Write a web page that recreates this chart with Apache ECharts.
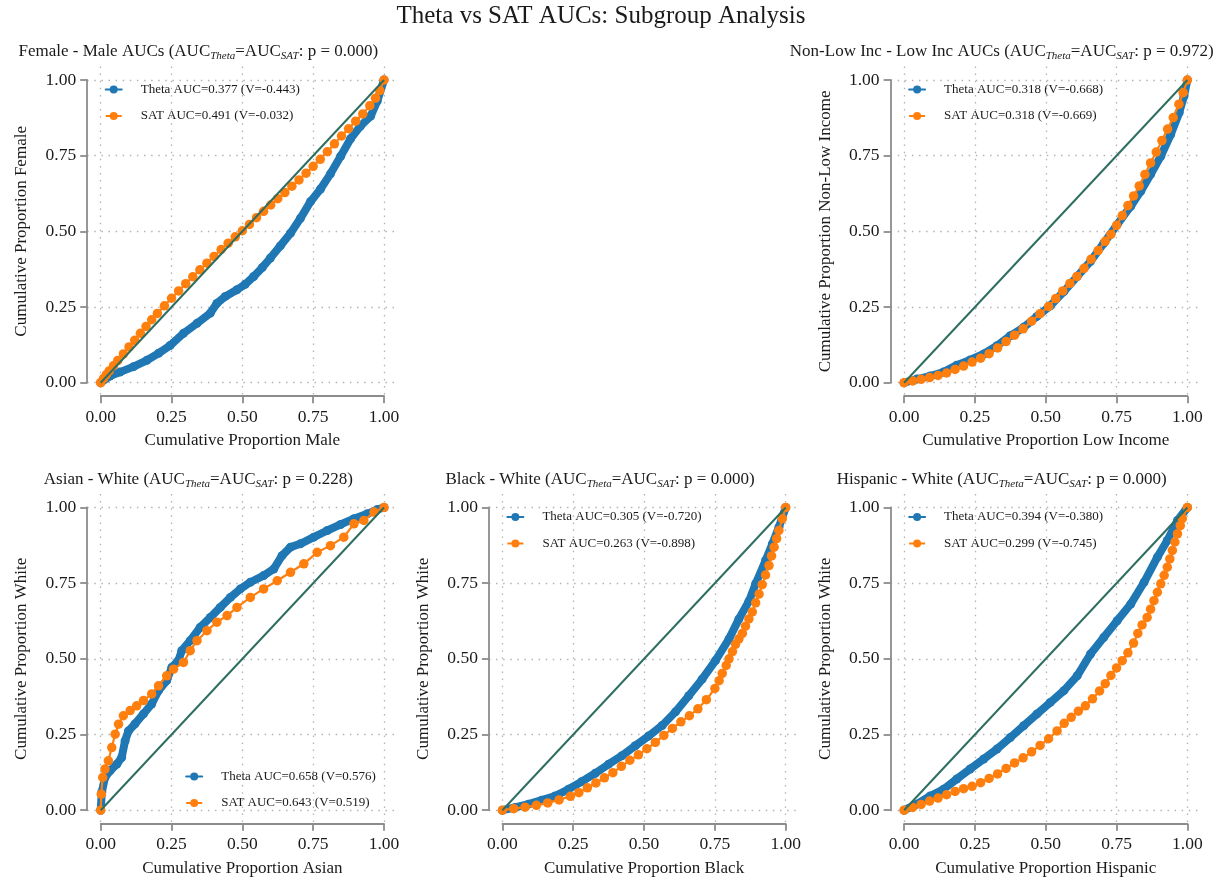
<!DOCTYPE html>
<html>
<head>
<meta charset="utf-8">
<script src="https://cdn.jsdelivr.net/npm/echarts@6/dist/echarts.min.js"></script>
<style>
  html, body { margin: 0; padding: 0; background: #ffffff; }
  #chart { width: 1227px; height: 886px; }
</style>
</head>
<body>
<div id="chart"></div>
<script>
// ---------- data ----------
const tickValues = [0, 0.25, 0.5, 0.75, 1];
const tickLabels = ['0.00', '0.25', '0.50', '0.75', '1.00'];

const mainTitle = 'Theta vs SAT AUCs: Subgroup Analysis';
const titleHeads = ['Female - Male AUCs', 'Non-Low Inc - Low Inc AUCs', 'Asian - White', 'Black - White', 'Hispanic - White'];
const pValues = ['0.000', '0.972', '0.228', '0.000', '0.000'];
const xNames = ['Cumulative Proportion Male', 'Cumulative Proportion Low Income', 'Cumulative Proportion Asian', 'Cumulative Proportion Black', 'Cumulative Proportion Hispanic'];
const yNames = ['Cumulative Proportion Female', 'Cumulative Proportion Non-Low Income', 'Cumulative Proportion White', 'Cumulative Proportion White', 'Cumulative Proportion White'];
const thetaNames = ['Theta AUC=0.377 (V=-0.443)', 'Theta AUC=0.318 (V=-0.668)', 'Theta AUC=0.658 (V=0.576)', 'Theta AUC=0.305 (V=-0.720)', 'Theta AUC=0.394 (V=-0.380)'];
const satNames = ['SAT AUC=0.491 (V=-0.032)', 'SAT AUC=0.318 (V=-0.669)', 'SAT AUC=0.643 (V=0.519)', 'SAT AUC=0.263 (V=-0.898)', 'SAT AUC=0.299 (V=-0.745)'];

const chanceLine = [[0, 0], [1, 1]];

const femaleMaleTheta = [[0,0],[0.033,0.022],[0.068,0.035],[0.116,0.053],[0.163,0.074],[0.204,0.097],[0.245,0.123],[0.292,0.163],[0.340,0.196],[0.387,0.230],[0.410,0.262],[0.440,0.285],[0.481,0.307],[0.510,0.325],[0.540,0.351],[0.570,0.380],[0.599,0.412],[0.634,0.452],[0.670,0.494],[0.705,0.543],[0.741,0.599],[0.776,0.640],[0.811,0.690],[0.847,0.748],[0.882,0.806],[0.917,0.848],[0.953,0.881],[0.976,0.930],[1,1]];
const femaleMaleSat = [[0,0],[0.01,0.014],[0.02,0.027],[0.03,0.039],[0.045,0.056],[0.06,0.073],[0.08,0.095],[0.1,0.118],[0.12,0.14],[0.14,0.163],[0.16,0.186],[0.18,0.208],[0.2,0.229],[0.225,0.254],[0.25,0.279],[0.275,0.303],[0.3,0.327],[0.325,0.35],[0.35,0.373],[0.375,0.395],[0.4,0.417],[0.425,0.44],[0.45,0.461],[0.475,0.482],[0.5,0.502],[0.525,0.523],[0.55,0.545],[0.575,0.566],[0.6,0.587],[0.625,0.608],[0.65,0.628],[0.675,0.649],[0.7,0.67],[0.725,0.692],[0.75,0.715],[0.775,0.738],[0.8,0.763],[0.825,0.789],[0.85,0.815],[0.875,0.839],[0.9,0.864],[0.925,0.888],[0.95,0.915],[0.97,0.94],[0.985,0.965],[1,1]];

const incomeTheta = [[0,0],[0.045,0.012],[0.092,0.022],[0.139,0.035],[0.186,0.058],[0.233,0.075],[0.281,0.095],[0.328,0.122],[0.375,0.155],[0.422,0.183],[0.469,0.219],[0.516,0.254],[0.564,0.301],[0.611,0.351],[0.658,0.401],[0.705,0.461],[0.752,0.522],[0.800,0.583],[0.835,0.632],[0.870,0.688],[0.906,0.748],[0.941,0.820],[0.971,0.892],[0.988,0.947],[1,1]];
const incomeSat = [[0,0],[0.03,0.006],[0.06,0.011],[0.09,0.017],[0.12,0.024],[0.15,0.032],[0.18,0.044],[0.21,0.055],[0.24,0.068],[0.27,0.081],[0.3,0.096],[0.33,0.115],[0.36,0.136],[0.39,0.157],[0.42,0.178],[0.45,0.203],[0.48,0.228],[0.51,0.252],[0.535,0.278],[0.56,0.303],[0.585,0.328],[0.61,0.351],[0.635,0.378],[0.66,0.408],[0.685,0.437],[0.71,0.467],[0.73,0.49],[0.75,0.52],[0.77,0.552],[0.79,0.585],[0.81,0.617],[0.83,0.65],[0.85,0.688],[0.87,0.726],[0.89,0.762],[0.91,0.8],[0.93,0.838],[0.95,0.876],[0.97,0.92],[0.985,0.958],[1,1]];

const asianTheta = [[0,0],[0.004,0.06],[0.015,0.108],[0.033,0.130],[0.057,0.152],[0.074,0.174],[0.086,0.229],[0.098,0.262],[0.121,0.285],[0.151,0.318],[0.180,0.351],[0.204,0.395],[0.233,0.428],[0.251,0.472],[0.274,0.494],[0.286,0.527],[0.316,0.560],[0.351,0.604],[0.387,0.637],[0.422,0.670],[0.458,0.703],[0.493,0.731],[0.528,0.753],[0.575,0.775],[0.611,0.797],[0.640,0.841],[0.670,0.869],[0.705,0.880],[0.752,0.902],[0.800,0.924],[0.847,0.944],[0.894,0.963],[0.941,0.979],[0.976,0.993],[1,1]];
const asianSat = [[0,0],[0.002,0.053],[0.007,0.108],[0.015,0.136],[0.027,0.163],[0.039,0.207],[0.051,0.251],[0.063,0.284],[0.080,0.312],[0.104,0.329],[0.127,0.345],[0.151,0.362],[0.180,0.384],[0.204,0.411],[0.233,0.444],[0.257,0.466],[0.292,0.488],[0.316,0.527],[0.340,0.560],[0.375,0.593],[0.410,0.621],[0.446,0.643],[0.481,0.670],[0.528,0.703],[0.575,0.731],[0.623,0.758],[0.670,0.786],[0.717,0.814],[0.764,0.852],[0.811,0.874],[0.858,0.902],[0.894,0.946],[0.929,0.957],[0.965,0.985],[1,1]];

const blackTheta = [[0,0],[0.045,0.009],[0.092,0.020],[0.139,0.033],[0.186,0.047],[0.233,0.069],[0.281,0.095],[0.328,0.122],[0.375,0.152],[0.422,0.180],[0.469,0.213],[0.516,0.245],[0.564,0.280],[0.611,0.325],[0.658,0.378],[0.705,0.433],[0.752,0.494],[0.800,0.566],[0.835,0.632],[0.870,0.690],[0.894,0.748],[0.929,0.825],[0.953,0.880],[0.976,0.935],[1,1]];
const blackSat = [[0,0],[0.04,0.005],[0.08,0.01],[0.12,0.016],[0.16,0.024],[0.2,0.034],[0.24,0.046],[0.27,0.058],[0.3,0.074],[0.33,0.09],[0.36,0.107],[0.39,0.124],[0.42,0.145],[0.45,0.165],[0.48,0.183],[0.51,0.203],[0.54,0.224],[0.57,0.247],[0.6,0.27],[0.63,0.292],[0.66,0.312],[0.69,0.335],[0.72,0.365],[0.75,0.402],[0.765,0.428],[0.776,0.452],[0.79,0.478],[0.8,0.5],[0.812,0.524],[0.823,0.548],[0.835,0.566],[0.847,0.584],[0.858,0.608],[0.87,0.632],[0.882,0.655],[0.894,0.685],[0.906,0.714],[0.917,0.745],[0.929,0.777],[0.941,0.808],[0.95,0.84],[0.959,0.869],[0.968,0.897],[0.976,0.924],[0.988,0.963],[1,1]];

const hispanicTheta = [[0,0],[0.045,0.020],[0.092,0.047],[0.139,0.069],[0.186,0.103],[0.233,0.136],[0.281,0.169],[0.328,0.202],[0.375,0.240],[0.422,0.279],[0.469,0.318],[0.516,0.356],[0.564,0.395],[0.611,0.444],[0.658,0.516],[0.705,0.571],[0.752,0.626],[0.800,0.681],[0.847,0.753],[0.894,0.836],[0.929,0.891],[0.965,0.957],[1,1]];
const hispanicSat = [[0,0],[0.03,0.009],[0.06,0.019],[0.09,0.03],[0.12,0.04],[0.15,0.051],[0.18,0.062],[0.21,0.071],[0.24,0.079],[0.27,0.091],[0.3,0.105],[0.33,0.12],[0.36,0.138],[0.39,0.156],[0.42,0.173],[0.45,0.193],[0.48,0.214],[0.51,0.236],[0.54,0.262],[0.565,0.287],[0.59,0.307],[0.615,0.327],[0.64,0.345],[0.665,0.368],[0.69,0.394],[0.71,0.418],[0.73,0.445],[0.75,0.47],[0.77,0.494],[0.79,0.52],[0.81,0.552],[0.825,0.584],[0.84,0.612],[0.858,0.637],[0.87,0.664],[0.882,0.692],[0.894,0.72],[0.906,0.748],[0.918,0.776],[0.929,0.803],[0.938,0.83],[0.947,0.858],[0.956,0.886],[0.965,0.913],[0.975,0.94],[0.982,0.963],[1,1]];

const thetaSeries = [femaleMaleTheta, incomeTheta, asianTheta, blackTheta, hispanicTheta];
const satSeries = [femaleMaleSat, incomeSat, asianSat, blackSat, hispanicSat];

// ---------- layout ----------
const FONT = '"Liberation Serif", "Times New Roman", serif';
const TEXT = '#1a1a1a';
const BLUE = '#1f77b4';
const ORANGE = '#ff7f0e';
const DIAG = '#2e6e60';
const SPINE = '#8c8c8c';
const GRIDC = '#b3b3b3';

const colX = [100.7, 502.4, 904.1];   // pixel x of value 0 in each column
const rowY = [80, 507.5];             // pixel y of value 1 in each row
const W = 283.3, H = 302.7, PAD = 13.5;
const slots = [[0, 0], [0, 2], [1, 0], [1, 1], [1, 2]];
const legendLower = [false, false, true, false, false];

const grids = [], xAxes = [], yAxes = [], series = [], legends = [];
const titles = [{
  text: mainTitle, left: 601, top: 4, textAlign: 'center', padding: 0,
  textStyle: { fontFamily: FONT, fontSize: 25, fontWeight: 'normal', color: TEXT }
}];

slots.forEach(([r, c], i) => {
  const x0 = colX[c], y1 = rowY[r];
  const outer = 2 * i, inner = 2 * i + 1;

  // padded plotting area: holds the curves and the dotted grid
  grids.push({ left: x0 - PAD, top: y1 - PAD, width: W + 2 * PAD, height: H + 2 * PAD });
  // unit square: carries the trimmed spines, ticks and labels
  grids.push({ left: x0, top: y1, width: W, height: H });

  const dotted = { show: true, lineStyle: { color: GRIDC, width: 1.3, type: [1.5, 5.6] } };
  xAxes.push({
    gridIndex: outer, type: 'value', min: -PAD / W, max: 1 + PAD / W,
    axisLine: { show: false }, axisTick: { show: false, customValues: tickValues },
    axisLabel: { show: false, customValues: tickValues }, splitLine: dotted
  });
  yAxes.push({
    gridIndex: outer, type: 'value', min: -PAD / H, max: 1 + PAD / H,
    axisLine: { show: false }, axisTick: { show: false, customValues: tickValues },
    axisLabel: { show: false, customValues: tickValues }, splitLine: dotted
  });

  const spine = { show: true, onZero: false, lineStyle: { color: SPINE, width: 1.8 } };
  const ticks = { show: true, length: 7, customValues: tickValues, lineStyle: { color: SPINE, width: 1.8 } };
  const labels = {
    customValues: tickValues, formatter: v => tickLabels[tickValues.indexOf(v)],
    fontFamily: FONT, fontSize: 17.5, color: TEXT
  };
  const nameStyle = { fontFamily: FONT, fontSize: 17, color: TEXT };
  xAxes.push({
    gridIndex: inner, type: 'value', min: 0, max: 1, interval: 0.25, offset: PAD,
    axisLine: spine, axisTick: ticks, axisLabel: Object.assign({ margin: 12 }, labels),
    splitLine: { show: false },
    name: xNames[i], nameLocation: 'middle', nameGap: 36, nameTextStyle: nameStyle
  });
  yAxes.push({
    gridIndex: inner, type: 'value', min: 0, max: 1, interval: 0.25, offset: PAD,
    axisLine: spine, axisTick: ticks, axisLabel: Object.assign({ margin: 11 }, labels),
    splitLine: { show: false },
    name: yNames[i], nameLocation: 'middle', nameGap: 57, nameTextStyle: nameStyle
  });

  const quiet = { disabled: true };
  series.push({
    type: 'line', name: thetaNames[i], xAxisIndex: outer, yAxisIndex: outer,
    data: thetaSeries[i], color: BLUE, symbol: 'circle', symbolSize: 9,
    lineStyle: { width: 8, color: BLUE, cap: 'round', join: 'round' }, itemStyle: { color: BLUE },
    clip: false, z: 3, emphasis: quiet, silent: true, animation: false
  });
  series.push({
    type: 'line', name: satNames[i], xAxisIndex: outer, yAxisIndex: outer,
    data: satSeries[i], color: ORANGE, symbol: 'circle', symbolSize: 9.5,
    lineStyle: { width: 2.2, color: ORANGE }, itemStyle: { color: ORANGE },
    clip: false, z: 4, emphasis: quiet, silent: true, animation: false
  });
  series.push({
    type: 'line', xAxisIndex: outer, yAxisIndex: outer, data: chanceLine,
    symbol: 'none', lineStyle: { width: 2, color: DIAG }, clip: false, z: 5,
    emphasis: quiet, silent: true, animation: false
  });

  legends.push({
    data: [thetaNames[i], satNames[i]], orient: 'vertical', selectedMode: false,
    left: legendLower[i] ? x0 + 84.5 : x0 + 4,
    top: legendLower[i] ? y1 + 262 : y1 + 2.5,
    padding: 0, itemWidth: 16, itemHeight: 10, itemGap: 12.5,
    lineStyle: { width: 2 },
    textStyle: { fontFamily: FONT, fontSize: 13, color: TEXT, lineHeight: 14, padding: [0, 0, 0, 14] }
  });

  titles.push({
    text: `${titleHeads[i]} (AUC{s|Theta}=AUC{s|SAT}: p = ${pValues[i]})`,
    left: x0 + W / 2 - 44, top: y1 - 38, textAlign: 'center', padding: 0,
    textStyle: {
      fontFamily: FONT, fontSize: 17, fontWeight: 'normal', color: TEXT, lineHeight: 20,
      rich: { s: { fontFamily: FONT, fontSize: 11, fontStyle: 'italic', color: TEXT, verticalAlign: 'bottom' } }
    }
  });
});

const chart = echarts.init(document.getElementById('chart'), null, { renderer: 'canvas' });
chart.setOption({
  backgroundColor: '#ffffff',
  animation: false,
  title: titles,
  grid: grids,
  xAxis: xAxes,
  yAxis: yAxes,
  legend: legends,
  series: series
});
</script>
</body>
</html>
